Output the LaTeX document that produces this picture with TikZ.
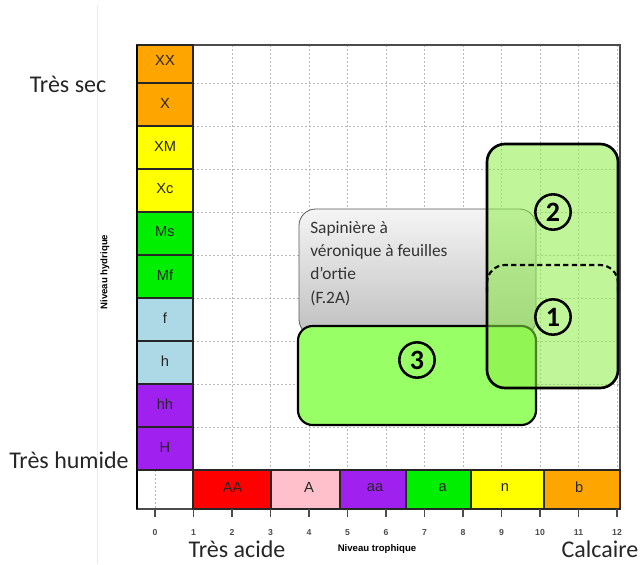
\documentclass[tikz,border=0pt]{standalone}
\usepackage{fontspec}
\setmainfont{Carlito}
\newfontfamily\arialfont{Liberation Sans}
\usepackage{tikz}
\usetikzlibrary{calc}

\definecolor{rorange}{RGB}{255,165,0}
\definecolor{ryellow}{RGB}{255,255,0}
\definecolor{rgreen}{RGB}{0,238,0}
\definecolor{rblue}{RGB}{173,216,230}
\definecolor{rpurple}{RGB}{160,32,240}
\definecolor{rred}{RGB}{255,0,0}
\definecolor{rpink}{RGB}{255,192,203}
\definecolor{zonelight}{RGB}{140,238,70}
\definecolor{zonebright}{RGB}{153,255,102}

\begin{document}
\begin{tikzpicture}[x=0.75pt, y=-0.75pt,
		cell/.style={draw=black!85, line width=0.9pt},
		celltext/.style={font=\arialfont\fontsize{11}{13}\selectfont, text=black!85},
		griddot/.style={draw=black!28, line width=0.75pt, dash pattern=on 1.5pt off 1.5pt},
		bigtext/.style={font=\fontsize{18}{21}\selectfont, text=black!85},
		boxtext/.style={font=\fontsize{13}{17.5}\selectfont, text=black!80},
		ticklab/.style={font=\arialfont\bfseries\fontsize{6.5}{7}\selectfont, text=black!70, anchor=base},
		axistitle/.style={font=\arialfont\bfseries\fontsize{7.2}{8}\selectfont},
		zone/.style={draw=black, line width=2pt, rounded corners=13.5pt},
		zonenum/.style={circle, draw=black, line width=1.9pt, inner sep=0pt, minimum size=26.5pt, font=\bfseries\fontsize{21}{22}\selectfont}
	]
	%%%%% START %%%%%
	\useasboundingbox (0,0) rectangle (642,564);
	
	\draw[black!8, line width=0.75pt] (97,5) -- (97,564);
	
	% grid
	\foreach \k in {2,...,12}
		\draw[griddot] ({155+38.5*\k},45) -- ({155+38.5*\k},470);
	\foreach \i in {0,...,8}
		\draw[griddot] (193,{427-43*\i}) -- (620,{427-43*\i});
	\draw[griddot] (155,470) -- (155,509);
	
	\draw[black!70, line width=1.2pt] (137,45) rectangle (620,509);
	
	% niveau hydrique
	\foreach \lab/\col [count=\i from 0] in {H/rpurple,hh/rpurple,h/rblue,f/rblue,Mf/rgreen,Ms/rgreen,Xc/ryellow,XM/ryellow,X/rorange,XX/rorange}{
		\pgfmathsetmacro{\ytop}{max(45,427-43*\i)}
		\draw[cell, fill=\col] (137,\ytop) rectangle (193,{470-43*\i});
		\node[celltext] (hyd\i) at (165,{447-43*\i}) {\lab};
	}
	
	% niveau trophique
	\foreach \xa/\xb/\xl/\lab/\col [count=\j] in {193/271/232.7/AA/rred,271/340/309/A/rpink,340/406/375/aa/rpurple,406/471/442.7/a/rgreen,471/544/505/n/ryellow,544/620/579.3/b/rorange}{
		\draw[cell, fill=\col] (\xa,470) rectangle (\xb,509);
		\node[celltext] (tro\j) at (\xl,487.5) {\lab};
	}
	
	\draw[line width=2pt] (137,45) -- (137,509);
	
	\foreach \k in {0,...,12}{
		\draw[black!70, line width=0.9pt] ({155+38.5*\k},509) -- ({155+38.5*\k},517);
		\node[ticklab] (tick\k) at ({155+38.5*\k},535) {\k};
	}
	
	\node[axistitle] (trophique) at (377,549) {Niveau trophique};
	\node[axistitle, rotate=90] (hydrique) at (105,272) {Niveau hydrique};
	
	\node[bigtext, anchor=base] (sec) at (68,92) {Très sec};
	\node[bigtext, anchor=base] (humide) at (69,468) {Très humide};
	\node[bigtext, anchor=base] (acide) at (237,557) {Très acide};
	\node[bigtext, anchor=base] (calcaire) at (600,557) {Calcaire};
	
	% zones
	\draw[draw=black!65, line width=0.6pt, rounded corners=12.5pt, top color=black!4, bottom color=black!25] (299,209) rectangle (536,336);
	\node[boxtext, anchor=base west, inner sep=0pt] (f2a) at (310,233) {\begin{tabular}[t]{@{}l@{}}Sapinière à\\véronique à feuilles\\d’ortie\\(F.2A)\end{tabular}};
	
	\draw[zone, line width=1.6pt, rounded corners=11pt, fill=zonebright] (298,326) rectangle (536,425);
	\draw[zone, fill=zonelight, fill opacity=0.55] (487,144) rectangle (618,388);
	\draw[line width=1.6pt, dash pattern=on 4pt off 2.5pt, rounded corners=13.5pt] (487,292) -- (487,265) -- (618,265) -- (618,292);
	
	\node[zonenum] (num2) at (553,212) {2};
	\node[zonenum] (num1) at (553,317) {1};
	\node[zonenum] (num3) at (417,360) {3};
	
	%%%%% END %%%%%
\end{tikzpicture}
\end{document}
